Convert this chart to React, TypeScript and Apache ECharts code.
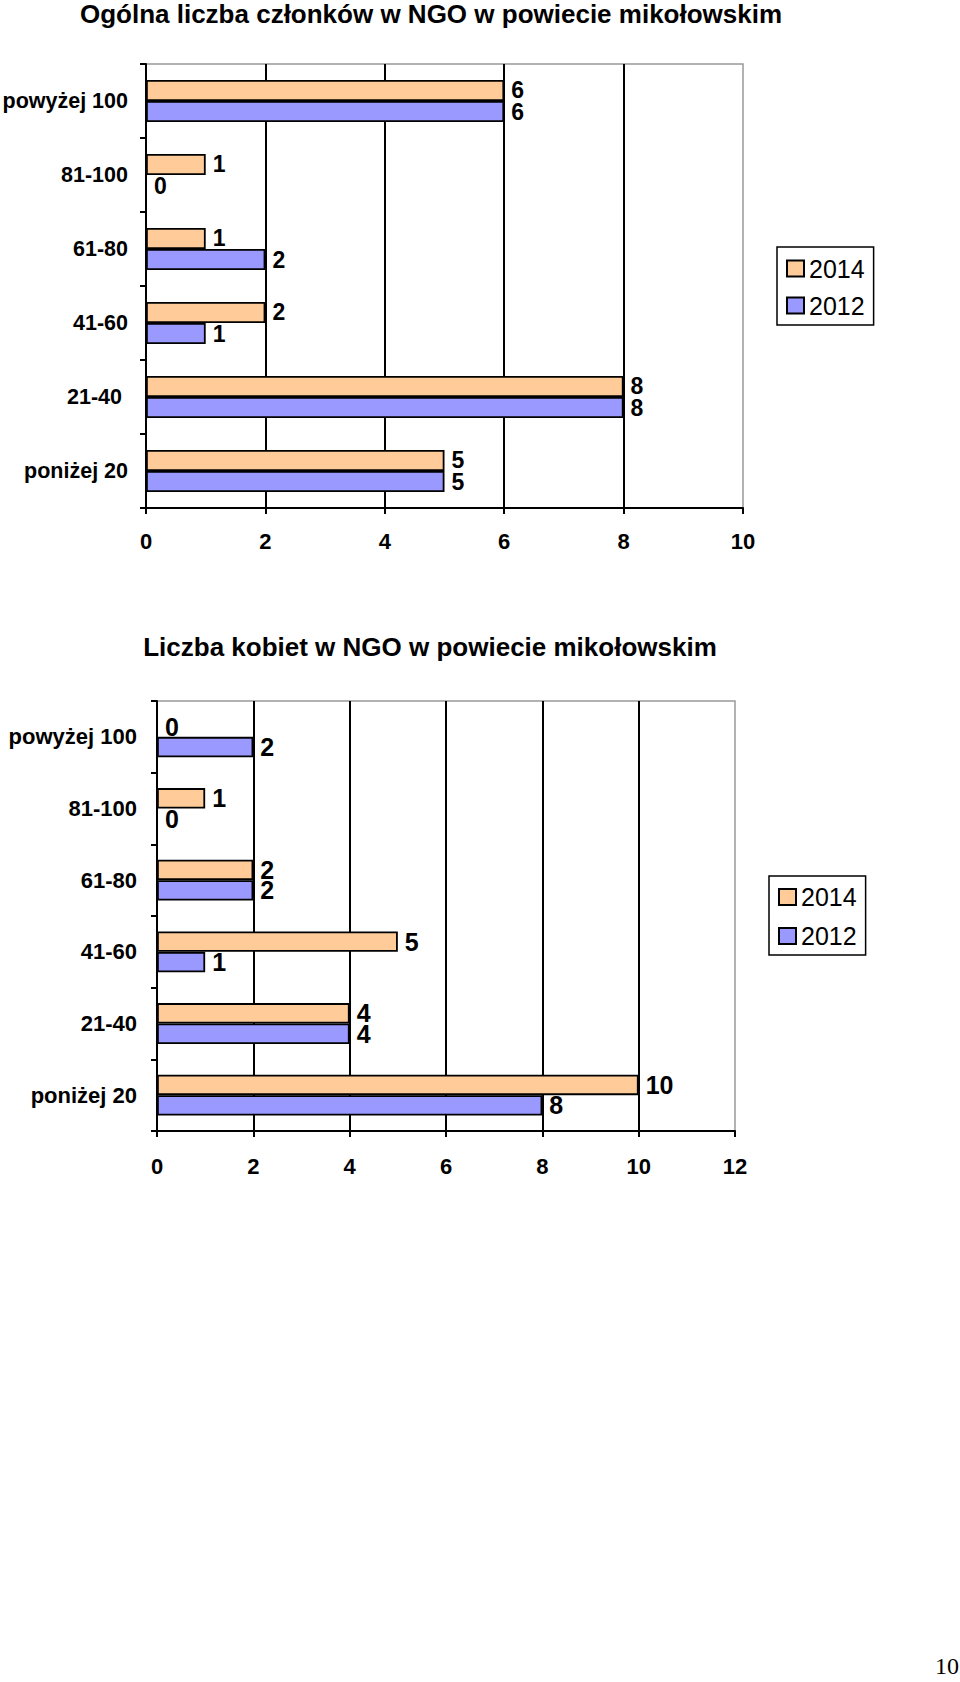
import React, { useEffect, useRef } from 'react';
import * as echarts from 'echarts';

// ---- data ----
const categoriesTotal = ['poniżej 20', '21-40 ', '41-60', '61-80', '81-100', 'powyżej 100'];
const categoriesWomen = ['poniżej 20', '21-40', '41-60', '61-80', '81-100', 'powyżej 100'];
const seriesNames = ['2014', '2012'];
const total2014 = [5, 8, 2, 1, 1, 6];
const total2012 = [5, 8, 1, 2, 0, 6];
const women2014 = [10, 4, 5, 2, 1, 0];
const women2012 = [8, 4, 1, 2, 0, 2];
const titleTotal = 'Ogólna liczba członków w NGO w powiecie mikołowskim';
const titleWomen = 'Liczba kobiet w NGO w powiecie mikołowskim';
const pageNumber = '10';

const FONT = '"Liberation Sans", Arial, Helvetica, sans-serif';
const ORANGE = '#FFCC99';
const BLUE = '#9999FF';

function valueAxis(gridIndex: number, max: number, margin: number) {
  return {
    type: 'value',
    gridIndex,
    min: 0,
    max,
    interval: 2,
    axisLine: { show: true, lineStyle: { color: '#000', width: 2 } },
    axisTick: { show: true, length: 6, lineStyle: { color: '#000', width: 2 } },
    axisLabel: { fontFamily: FONT, fontWeight: 'bold', fontSize: 22, color: '#000', margin },
    splitLine: { show: true, showMinLine: false, showMaxLine: false, lineStyle: { color: '#000', width: 2 } },
  };
}

function categoryAxis(gridIndex: number, data: string[], margin: number, fontSize: number) {
  return {
    type: 'category',
    gridIndex,
    data,
    axisLine: { show: true, lineStyle: { color: '#000', width: 2 } },
    axisTick: { show: true, length: 6, alignWithLabel: false, lineStyle: { color: '#000', width: 2 } },
    axisLabel: { fontFamily: FONT, fontWeight: 'bold', fontSize, color: '#000', margin },
    splitLine: { show: false },
  };
}

function barSeries(name: string, data: number[], color: string, idx: number, fontSize: number) {
  return {
    type: 'bar',
    name,
    xAxisIndex: idx,
    yAxisIndex: idx,
    data,
    barGap: '0%',
    barCategoryGap: '43%',
    itemStyle: { color, borderColor: '#000', borderWidth: 1.8 },
    label: {
      show: true,
      position: 'right',
      distance: 7,
      fontFamily: FONT,
      fontWeight: 'bold',
      fontSize,
      color: '#000',
    },
  };
}

function legend(left: number, top: number, padding: number[], itemGap: number) {
  return {
    data: seriesNames,
    orient: 'vertical',
    left,
    top,
    icon: 'rect',
    itemWidth: 17,
    itemHeight: 16,
    itemGap,
    padding,
    borderColor: '#000',
    borderWidth: 1.5,
    selectedMode: false,
    textStyle: { fontFamily: FONT, fontSize: 25, color: '#000' },
  };
}

export default function App() {
  const ref = useRef<HTMLDivElement>(null);
  useEffect(() => {
    if (!ref.current) return;
    const chart = echarts.init(ref.current, null, { renderer: 'svg' });
    chart.setOption({
      animation: false,
      backgroundColor: '#fff',
      grid: [
        { left: 146, top: 64, width: 597, height: 444, show: true, borderColor: '#999', borderWidth: 1.5, backgroundColor: 'transparent', containLabel: false, outerBoundsMode: 'none' },
        { left: 157, top: 701, width: 578, height: 430, show: true, borderColor: '#999', borderWidth: 1.5, backgroundColor: 'transparent', containLabel: false, outerBoundsMode: 'none' },
      ],
      xAxis: [valueAxis(0, 10, 22), valueAxis(1, 12, 24)],
      yAxis: [categoryAxis(0, categoriesTotal, 18, 21.5), categoryAxis(1, categoriesWomen, 20, 22)],
      legend: [legend(777, 247, [9, 9, 7, 9], 12), legend(769, 876, [8.5, 9, 6.5, 9], 14)],
      series: [
        barSeries(seriesNames[0], total2014, ORANGE, 0, 23),
        barSeries(seriesNames[1], total2012, BLUE, 0, 23),
        barSeries(seriesNames[0], women2014, ORANGE, 1, 25),
        barSeries(seriesNames[1], women2012, BLUE, 1, 25),
      ],
      graphic: [
        {
          type: 'text',
          style: { text: titleTotal, x: 431, y: 14, textAlign: 'center', textVerticalAlign: 'middle', font: `bold 26px ${FONT}`, fill: '#000' },
        },
        {
          type: 'text',
          style: { text: titleWomen, x: 430, y: 647, textAlign: 'center', textVerticalAlign: 'middle', font: `bold 26px ${FONT}`, fill: '#000' },
        },
        {
          type: 'text',
          style: { text: pageNumber, x: 935, y: 1678, textAlign: 'left', textVerticalAlign: 'bottom', font: '24px "Liberation Serif", "Times New Roman", serif', fill: '#000' },
        },
      ],
    });
    return () => chart.dispose();
  }, []);
  return <div ref={ref} style={{ position: 'absolute', left: 0, top: 0, width: 960, height: 1682 }} />;
}
